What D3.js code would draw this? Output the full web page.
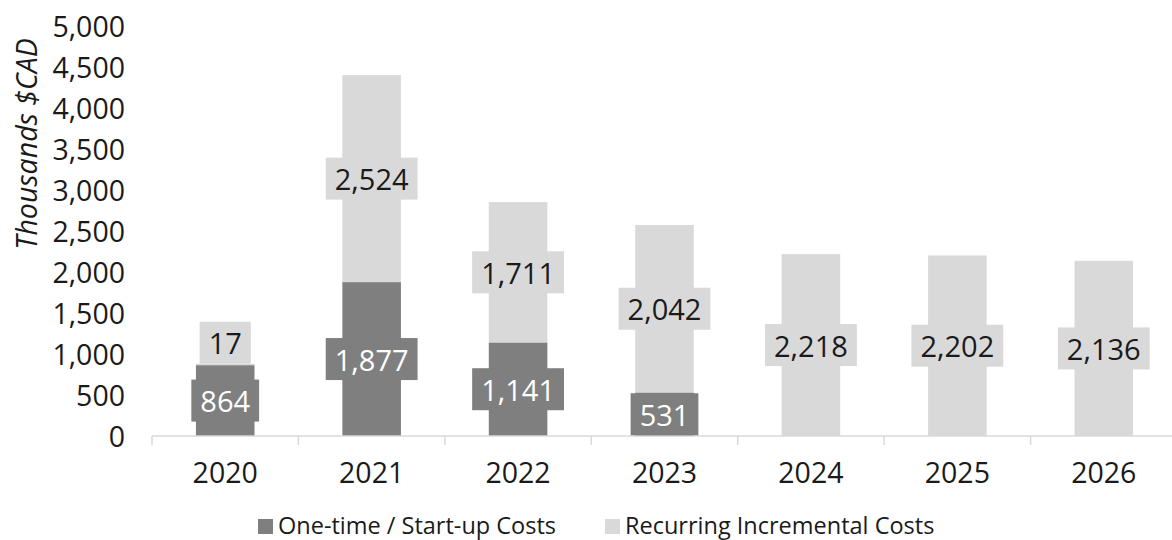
<!DOCTYPE html>
<html>
<head>
<meta charset="utf-8">
<script src="https://cdn.jsdelivr.net/npm/d3@7"></script>
<style>
  html, body { margin: 0; padding: 0; background: #ffffff; }
  svg { display: block; }
</style>
</head>
<body>
<svg id="chart" width="1172" height="540"></svg>
<script>
// ---- data ----
const categories = ["2020", "2021", "2022", "2023", "2024", "2025", "2026"];
const oneTimeCosts = [864, 1877, 1141, 531, 0, 0, 0];
const recurringCosts = [17, 2524, 1711, 2042, 2218, 2202, 2136];
const seriesNames = ["One-time / Start-up Costs", "Recurring Incremental Costs"];
const yTicks = [0, 500, 1000, 1500, 2000, 2500, 3000, 3500, 4000, 4500, 5000];
const yTitle = "Thousands $CAD";

// ---- styles ----
const colors = ["#7f7f7f", "#d9d9d9"];
const labelColors = ["#ffffff", "#1a1a1a"];
const textColor = "#1a1a1a";
const axisColor = "#d9d9d9";
const fontMain = "'Open Sans', 'Noto Sans', sans-serif";
const fontWeight = 375;

const svg = d3.select("#chart");

const x = d3.scaleBand()
  .domain(categories)
  .range([152, 1177])
  .paddingInner(0.6)
  .paddingOuter(0.3);

const y = d3.scaleLinear().domain([0, 5000]).range([436, 26]);

// stack
const rows = categories.map((c, i) => ({ cat: c, s0: oneTimeCosts[i], s1: recurringCosts[i] }));
const stack = d3.stack().keys(["s0", "s1"])(rows);

const gBars = svg.append("g");
stack.forEach((layer, li) => {
  gBars.selectAll(null)
    .data(layer)
    .join("rect")
    .attr("x", d => x(d.data.cat))
    .attr("width", x.bandwidth())
    .attr("y", d => y(d[1]))
    .attr("height", d => Math.max(0, y(d[0]) - y(d[1])))
    .attr("fill", colors[li]);
});

// ---- x axis ----
const step = x.step();
const axisY = y(0);
svg.append("line")
  .attr("x1", 152).attr("x2", 1172)
  .attr("y1", axisY).attr("y2", axisY)
  .attr("stroke", axisColor).attr("stroke-width", 1.5);

const boundaries = categories.map(c => x(c) - step * x.paddingOuter());
boundaries.push(boundaries[boundaries.length - 1] + step);
svg.selectAll(null)
  .data(boundaries.filter(b => b <= 1172))
  .join("line")
  .attr("x1", d => d).attr("x2", d => d)
  .attr("y1", axisY).attr("y2", axisY + 9)
  .attr("stroke", axisColor).attr("stroke-width", 1.5);

svg.selectAll(null)
  .data(categories)
  .join("text")
  .attr("x", d => x(d) + x.bandwidth() / 2)
  .attr("y", 472)
  .attr("text-anchor", "middle")
  .attr("dominant-baseline", "central")
  .attr("font-family", fontMain)
  .attr("font-weight", fontWeight)
  .attr("font-size", 28.5)
  .attr("fill", textColor)
  .text(d => d);

// ---- y axis labels ----
const fmt = d3.format(",");
svg.selectAll(null)
  .data(yTicks)
  .join("text")
  .attr("x", 125)
  .attr("y", d => y(d))
  .attr("text-anchor", "end")
  .attr("dominant-baseline", "central")
  .attr("font-family", fontMain)
  .attr("font-weight", fontWeight)
  .attr("font-size", 28.5)
  .attr("fill", textColor)
  .text(d => fmt(d));

svg.append("text")
  .attr("transform", `translate(37, ${(y(0) + y(5000)) / 2 - 87}) rotate(-90)`)
  .attr("text-anchor", "middle")
  .attr("font-family", fontMain)
  .attr("font-weight", fontWeight)
  .attr("font-style", "italic")
  .attr("font-size", 28.5)
  .attr("fill", textColor)
  .text(yTitle);

// ---- data labels ----
const boxH = 42, padX = 9;
const gLabels = svg.append("g");
stack.forEach((layer, li) => {
  layer.forEach(d => {
    const v = d[1] - d[0];
    if (v <= 0) return;
    const cx = x(d.data.cat) + x.bandwidth() / 2;
    const segTop = y(d[1]), segBot = y(d[0]);
    let cy = (segTop + segBot) / 2;
    if (segBot - segTop < boxH * 0.9 && li === stack.length - 1) {
      cy = segTop - boxH / 2;
    }
    const g = gLabels.append("g");
    const t = g.append("text")
      .attr("x", cx)
      .attr("y", cy)
      .attr("text-anchor", "middle")
      .attr("dominant-baseline", "central")
      .attr("font-family", fontMain)
      .attr("font-weight", fontWeight)
      .attr("font-size", 29)
      .attr("fill", labelColors[li])
      .text(fmt(v));
    const w = t.node().getComputedTextLength() + padX * 2;
    g.insert("rect", "text")
      .attr("x", cx - w / 2)
      .attr("y", cy - boxH / 2)
      .attr("width", w)
      .attr("height", boxH)
      .attr("fill", colors[li]);
  });
});

// ---- legend ----
const legendX = [258, 605];
seriesNames.forEach((name, i) => {
  svg.append("rect")
    .attr("x", legendX[i]).attr("y", 519)
    .attr("width", 15).attr("height", 15)
    .attr("fill", colors[i]);
  svg.append("text")
    .attr("x", legendX[i] + 20)
    .attr("y", 534)
    .attr("font-family", fontMain)
    .attr("font-weight", fontWeight)
    .attr("font-size", 23.5)
    .attr("fill", textColor)
    .text(name);
});
</script>
</body>
</html>
